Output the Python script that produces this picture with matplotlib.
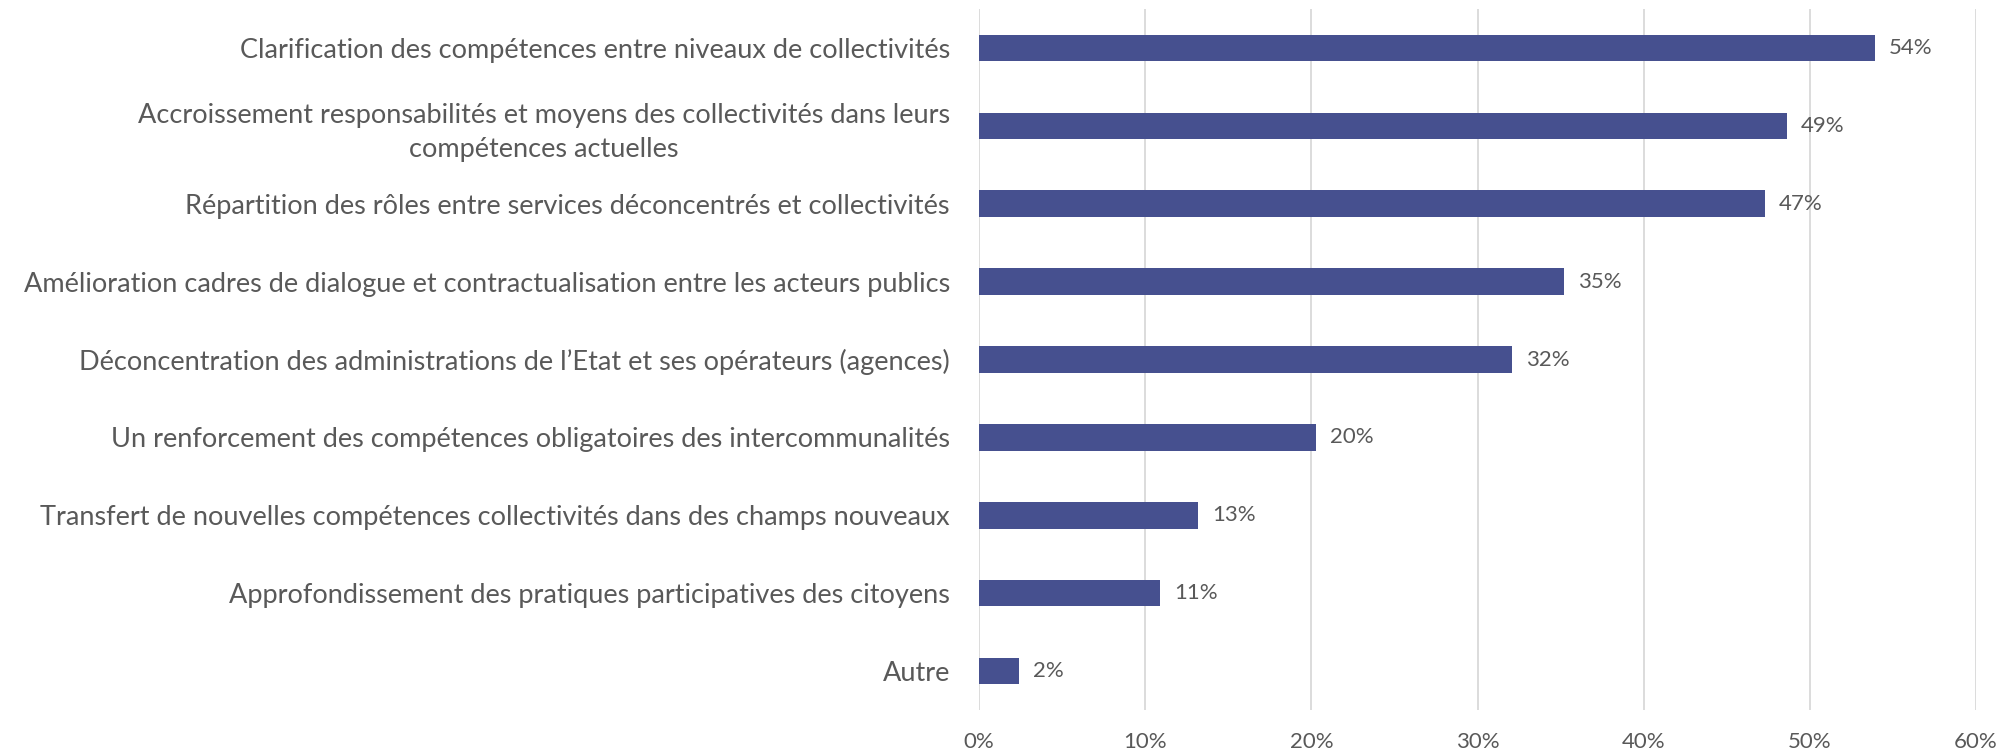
import matplotlib
matplotlib.use("Agg")
import matplotlib.pyplot as plt
from matplotlib.ticker import FuncFormatter, MultipleLocator

categories = [
    "Clarification des compétences entre niveaux de collectivités",
    "Accroissement responsabilités et moyens des collectivités dans leurs\ncompétences actuelles",
    "Répartition des rôles entre services déconcentrés et collectivités",
    "Amélioration cadres de dialogue et contractualisation entre les acteurs publics",
    "Déconcentration des administrations de l’Etat et ses opérateurs (agences)",
    "Un renforcement des compétences obligatoires des intercommunalités",
    "Transfert de nouvelles compétences collectivités dans des champs nouveaux",
    "Approfondissement des pratiques participatives des citoyens",
    "Autre",
]
values = [53.9, 48.6, 47.3, 35.2, 32.1, 20.3, 13.2, 10.9, 2.4]
value_labels = ["54%", "49%", "47%", "35%", "32%", "20%", "13%", "11%", "2%"]

plt.rcParams["font.family"] = ["Lato", "DejaVu Sans"]
TEXT = "#595959"
BAR = "#46508F"

fig = plt.figure(figsize=(20.15, 7.51), dpi=100)
ax = fig.add_axes([979 / 2015, 1 - 710 / 751, (1976 - 979) / 2015, (710 - 9) / 751])

y = list(range(len(categories)))
bars = ax.barh(y, values, height=0.34, color=BAR, zorder=3)
ax.set_ylim(len(categories) - 0.5, -0.5)
ax.set_xlim(0, 60)
ax.xaxis.set_major_locator(MultipleLocator(10))
ax.xaxis.set_major_formatter(FuncFormatter(lambda v, p: f"{v:.0f}%"))
ax.set_yticks(y)
ax.set_yticklabels(categories, fontsize=19.5, color=TEXT, multialignment="center",
                   linespacing=1.45)
ax.tick_params(axis="y", length=0, pad=21)
ax.tick_params(axis="x", length=0, pad=16, labelsize=16, labelcolor=TEXT)
ax.grid(axis="x", color="#D9D9D9", linewidth=1.3, zorder=0)
for s in ax.spines.values():
    s.set_visible(False)

for b, lab in zip(bars, value_labels):
    ax.annotate(lab, (b.get_width(), b.get_y() + b.get_height() / 2),
                xytext=(10, 0), textcoords="offset points",
                va="center", ha="left", fontsize=16, color=TEXT)

fig.savefig("out.png", dpi=100, facecolor="white")
